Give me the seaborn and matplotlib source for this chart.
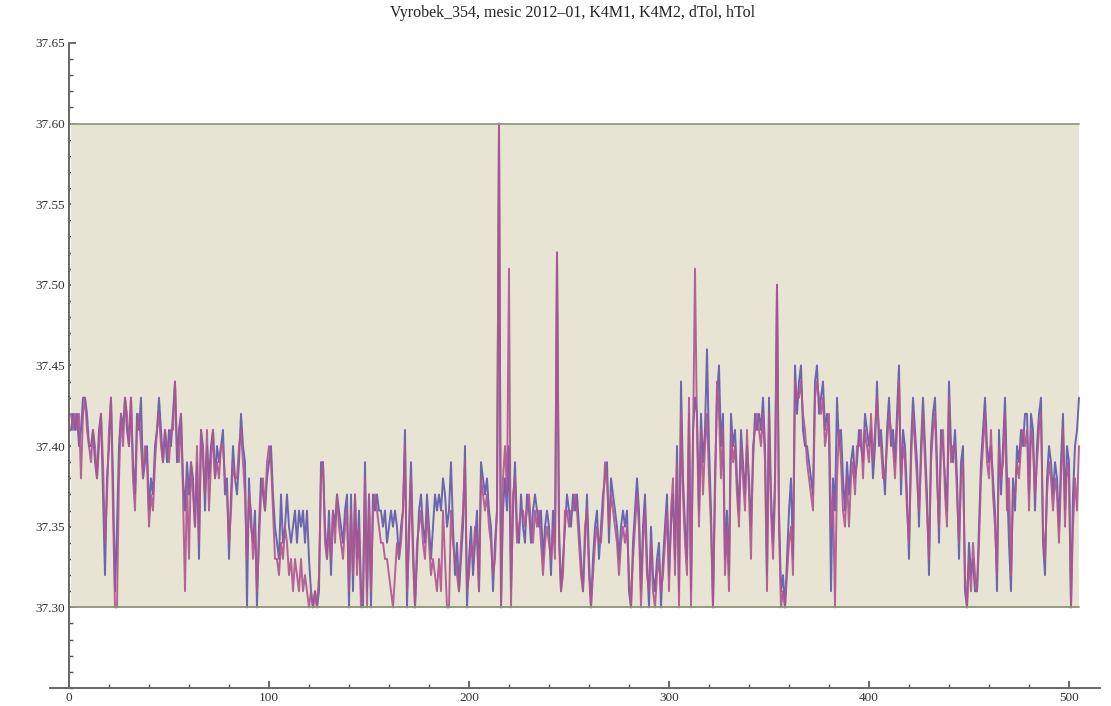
import numpy as np
import pandas as pd
import matplotlib
matplotlib.use("Agg")
import matplotlib.pyplot as plt
import seaborn as sns
from matplotlib.ticker import MultipleLocator, FormatStrFormatter

# ---------------- data ----------------
title = "Vyrobek_354, mesic 2012\u201301, K4M1, K4M2, dTol, hTol"
series_names = ["K4M1", "K4M2"]
dtol_value = 37.30
htol_value = 37.60
x_ticks = [0, 100, 200, 300, 400, 500]
y_ticks = [37.30, 37.35, 37.40, 37.45, 37.50, 37.55, 37.60, 37.65]

k4m1 = [
    37.41, 37.42, 37.41, 37.42, 37.40, 37.41, 37.43, 37.43, 37.42, 37.40,
    37.40, 37.41, 37.39, 37.38, 37.41, 37.42, 37.37, 37.32, 37.38, 37.40,
    37.43, 37.38, 37.31, 37.35, 37.40, 37.42, 37.41, 37.43, 37.41, 37.40,
    37.43, 37.39, 37.37, 37.42, 37.41, 37.43, 37.38, 37.39, 37.40, 37.36,
    37.38, 37.37, 37.40, 37.41, 37.43, 37.41, 37.39, 37.41, 37.39, 37.41,
    37.40, 37.42, 37.44, 37.39, 37.41, 37.42, 37.38, 37.36, 37.39, 37.37,
    37.39, 37.38, 37.35, 37.39, 37.33, 37.41, 37.40, 37.36, 37.40, 37.38,
    37.40, 37.41, 37.38, 37.40, 37.39, 37.40, 37.41, 37.37, 37.38, 37.33,
    37.37, 37.40, 37.38, 37.37, 37.39, 37.42, 37.40, 37.39, 37.30, 37.38,
    37.35, 37.34, 37.36, 37.30, 37.35, 37.38, 37.37, 37.36, 37.38, 37.39,
    37.40, 37.37, 37.35, 37.34, 37.33, 37.37, 37.34, 37.35, 37.37, 37.35,
    37.34, 37.35, 37.36, 37.34, 37.36, 37.35, 37.36, 37.34, 37.36, 37.33,
    37.31, 37.30, 37.31, 37.30, 37.31, 37.39, 37.39, 37.35, 37.33, 37.36,
    37.32, 37.36, 37.35, 37.37, 37.36, 37.35, 37.34, 37.36, 37.37, 37.30,
    37.37, 37.31, 37.37, 37.33, 37.36, 37.31, 37.30, 37.39, 37.31, 37.37,
    37.30, 37.37, 37.36, 37.37, 37.36, 37.36, 37.35, 37.36, 37.34, 37.35,
    37.36, 37.35, 37.36, 37.35, 37.33, 37.35, 37.36, 37.41, 37.30, 37.35,
    37.39, 37.34, 37.30, 37.33, 37.36, 37.37, 37.35, 37.34, 37.37, 37.35,
    37.33, 37.35, 37.37, 37.36, 37.37, 37.36, 37.38, 37.37, 37.35, 37.36,
    37.39, 37.35, 37.32, 37.34, 37.31, 37.33, 37.35, 37.40, 37.30, 37.33,
    37.35, 37.32, 37.34, 37.36, 37.31, 37.39, 37.38, 37.37, 37.38, 37.36,
    37.35, 37.31, 37.34, 37.36, 37.60, 37.30, 37.36, 37.38, 37.36, 37.40,
    37.31, 37.36, 37.39, 37.35, 37.34, 37.37, 37.35, 37.34, 37.37, 37.36,
    37.34, 37.36, 37.37, 37.36, 37.35, 37.36, 37.33, 37.35, 37.36, 37.35,
    37.32, 37.36, 37.34, 37.52, 37.35, 37.31, 37.33, 37.35, 37.37, 37.36,
    37.35, 37.37, 37.36, 37.37, 37.35, 37.33, 37.31, 37.34, 37.37, 37.33,
    37.30, 37.33, 37.35, 37.36, 37.33, 37.35, 37.37, 37.38, 37.39, 37.34,
    37.38, 37.37, 37.36, 37.35, 37.33, 37.35, 37.36, 37.35, 37.36, 37.31,
    37.30, 37.34, 37.36, 37.38, 37.36, 37.31, 37.35, 37.37, 37.33, 37.30,
    37.35, 37.32, 37.31, 37.33, 37.34, 37.30, 37.33, 37.35, 37.37, 37.32,
    37.35, 37.37, 37.33, 37.40, 37.31, 37.44, 37.38, 37.35, 37.33, 37.42,
    37.31, 37.41, 37.43, 37.42, 37.36, 37.42, 37.39, 37.41, 37.46, 37.40,
    37.36, 37.30, 37.38, 37.43, 37.45, 37.40, 37.42, 37.33, 37.36, 37.32,
    37.42, 37.40, 37.41, 37.38, 37.36, 37.41, 37.39, 37.37, 37.40, 37.38,
    37.35, 37.39, 37.42, 37.41, 37.42, 37.41, 37.43, 37.40, 37.32, 37.43,
    37.37, 37.34, 37.38, 37.50, 37.36, 37.31, 37.32, 37.30, 37.33, 37.36,
    37.38, 37.33, 37.45, 37.42, 37.44, 37.45, 37.41, 37.40, 37.40, 37.39,
    37.38, 37.37, 37.44, 37.45, 37.42, 37.43, 37.44, 37.41, 37.42, 37.41,
    37.31, 37.38, 37.36, 37.43, 37.40, 37.41, 37.38, 37.36, 37.39, 37.37,
    37.39, 37.40, 37.38, 37.39, 37.41, 37.40, 37.39, 37.42, 37.41, 37.40,
    37.41, 37.38, 37.40, 37.44, 37.40, 37.41, 37.39, 37.37, 37.41, 37.43,
    37.40, 37.41, 37.39, 37.42, 37.45, 37.37, 37.41, 37.40, 37.37, 37.33,
    37.40, 37.43, 37.41, 37.39, 37.35, 37.40, 37.43, 37.40, 37.37, 37.32,
    37.40, 37.42, 37.43, 37.39, 37.34, 37.41, 37.40, 37.38, 37.36, 37.44,
    37.40, 37.39, 37.41, 37.38, 37.33, 37.39, 37.40, 37.31, 37.30, 37.34,
    37.32, 37.33, 37.31, 37.31, 37.35, 37.39, 37.41, 37.43, 37.40, 37.39,
    37.40, 37.38, 37.36, 37.31, 37.41, 37.37, 37.40, 37.43, 37.38, 37.34,
    37.31, 37.38, 37.36, 37.40, 37.39, 37.41, 37.40, 37.42, 37.42, 37.37,
    37.42, 37.41, 37.36, 37.40, 37.42, 37.43, 37.34, 37.32, 37.38, 37.40,
    37.39, 37.37, 37.39, 37.38, 37.35, 37.39, 37.42, 37.36, 37.40, 37.39,
    37.30, 37.37, 37.40, 37.41, 37.43,
]

k4m2 = [
    37.42, 37.41, 37.42, 37.41, 37.42, 37.38, 37.42, 37.43, 37.41, 37.40,
    37.39, 37.41, 37.40, 37.38, 37.40, 37.42, 37.39, 37.34, 37.37, 37.41,
    37.43, 37.36, 37.30, 37.30, 37.38, 37.42, 37.40, 37.43, 37.42, 37.40,
    37.43, 37.38, 37.36, 37.41, 37.42, 37.40, 37.38, 37.40, 37.39, 37.35,
    37.37, 37.36, 37.39, 37.41, 37.42, 37.40, 37.39, 37.41, 37.40, 37.39,
    37.41, 37.41, 37.44, 37.40, 37.39, 37.42, 37.37, 37.31, 37.38, 37.33,
    37.39, 37.37, 37.35, 37.40, 37.34, 37.41, 37.39, 37.37, 37.41, 37.36,
    37.39, 37.41, 37.38, 37.39, 37.38, 37.40, 37.40, 37.38, 37.37, 37.34,
    37.36, 37.39, 37.38, 37.38, 37.40, 37.41, 37.39, 37.37, 37.33, 37.37,
    37.36, 37.33, 37.35, 37.31, 37.34, 37.37, 37.38, 37.36, 37.39, 37.40,
    37.39, 37.36, 37.33, 37.33, 37.32, 37.34, 37.33, 37.35, 37.34, 37.32,
    37.33, 37.31, 37.33, 37.32, 37.31, 37.33, 37.31, 37.32, 37.31, 37.30,
    37.31, 37.30, 37.31, 37.30, 37.32, 37.38, 37.39, 37.34, 37.33, 37.35,
    37.33, 37.36, 37.34, 37.37, 37.35, 37.34, 37.33, 37.35, 37.36, 37.31,
    37.36, 37.32, 37.37, 37.32, 37.35, 37.30, 37.31, 37.38, 37.30, 37.37,
    37.31, 37.36, 37.37, 37.36, 37.35, 37.34, 37.34, 37.33, 37.33, 37.32,
    37.31, 37.30, 37.32, 37.34, 37.33, 37.34, 37.36, 37.40, 37.31, 37.34,
    37.38, 37.33, 37.30, 37.34, 37.35, 37.36, 37.34, 37.33, 37.36, 37.34,
    37.32, 37.33, 37.32, 37.31, 37.33, 37.31, 37.36, 37.33, 37.30, 37.30,
    37.36, 37.34, 37.33, 37.32, 37.31, 37.34, 37.36, 37.39, 37.31, 37.32,
    37.34, 37.33, 37.35, 37.34, 37.31, 37.38, 37.37, 37.36, 37.37, 37.35,
    37.34, 37.32, 37.33, 37.36, 37.60, 37.30, 37.38, 37.40, 37.37, 37.51,
    37.30, 37.37, 37.38, 37.34, 37.35, 37.36, 37.36, 37.35, 37.36, 37.37,
    37.35, 37.34, 37.36, 37.35, 37.36, 37.34, 37.32, 37.34, 37.35, 37.34,
    37.33, 37.35, 37.33, 37.52, 37.34, 37.31, 37.32, 37.36, 37.36, 37.35,
    37.36, 37.36, 37.37, 37.36, 37.34, 37.32, 37.31, 37.35, 37.36, 37.32,
    37.30, 37.32, 37.34, 37.35, 37.34, 37.34, 37.36, 37.39, 37.38, 37.35,
    37.37, 37.36, 37.35, 37.34, 37.32, 37.34, 37.35, 37.34, 37.35, 37.32,
    37.30, 37.33, 37.35, 37.37, 37.35, 37.30, 37.34, 37.36, 37.32, 37.31,
    37.34, 37.31, 37.30, 37.32, 37.33, 37.31, 37.32, 37.34, 37.36, 37.31,
    37.36, 37.38, 37.32, 37.39, 37.30, 37.42, 37.37, 37.34, 37.32, 37.43,
    37.30, 37.40, 37.51, 37.41, 37.35, 37.41, 37.37, 37.40, 37.42, 37.38,
    37.35, 37.30, 37.37, 37.44, 37.42, 37.38, 37.41, 37.32, 37.35, 37.31,
    37.41, 37.39, 37.40, 37.37, 37.35, 37.40, 37.38, 37.36, 37.41, 37.37,
    37.33, 37.40, 37.41, 37.42, 37.41, 37.40, 37.42, 37.39, 37.31, 37.42,
    37.36, 37.33, 37.37, 37.50, 37.35, 37.30, 37.31, 37.30, 37.32, 37.34,
    37.35, 37.32, 37.44, 37.43, 37.43, 37.44, 37.42, 37.41, 37.39, 37.38,
    37.37, 37.36, 37.43, 37.44, 37.43, 37.42, 37.43, 37.40, 37.41, 37.42,
    37.35, 37.37, 37.30, 37.38, 37.41, 37.39, 37.36, 37.35, 37.38, 37.35,
    37.38, 37.39, 37.37, 37.40, 37.40, 37.41, 37.38, 37.41, 37.40, 37.39,
    37.42, 37.39, 37.41, 37.43, 37.41, 37.40, 37.38, 37.38, 37.40, 37.42,
    37.41, 37.40, 37.38, 37.41, 37.44, 37.38, 37.40, 37.39, 37.36, 37.34,
    37.39, 37.42, 37.40, 37.38, 37.36, 37.39, 37.42, 37.39, 37.36, 37.33,
    37.39, 37.41, 37.42, 37.38, 37.35, 37.40, 37.41, 37.37, 37.35, 37.43,
    37.39, 37.40, 37.40, 37.37, 37.34, 37.38, 37.39, 37.32, 37.30, 37.33,
    37.31, 37.34, 37.32, 37.31, 37.34, 37.38, 37.40, 37.42, 37.39, 37.38,
    37.41, 37.37, 37.35, 37.32, 37.40, 37.38, 37.39, 37.42, 37.36, 37.38,
    37.32, 37.37, 37.37, 37.39, 37.38, 37.40, 37.41, 37.40, 37.41, 37.36,
    37.41, 37.40, 37.37, 37.39, 37.41, 37.42, 37.35, 37.33, 37.37, 37.39,
    37.38, 37.36, 37.38, 37.37, 37.34, 37.38, 37.41, 37.35, 37.39, 37.38,
    37.30, 37.35, 37.38, 37.36, 37.40,
]

# ---------------- figure ----------------
sns.set_style("white")
plt.rcParams["font.family"] = ["Liberation Serif", "DejaVu Serif"]

W, H = 1111, 706
fig = plt.figure(figsize=(W / 100, H / 100), dpi=100)
ax = fig.add_axes([50 / W, 18 / H, 1050 / W, 654 / H])

n = len(k4m1)
x = np.arange(1, n + 1)
dtol = np.full(n, dtol_value)
htol = np.full(n, htol_value)

ax.fill_between(x, dtol, htol, color="#e8e4d3", lw=0, zorder=1)

df = pd.DataFrame({
    "x": np.concatenate([x, x]),
    "y": k4m1 + k4m2,
    "series": [series_names[0]] * n + [series_names[1]] * n,
})
sns.lineplot(data=df, x="x", y="y", hue="series",
             palette={"K4M1": "#5e58ab", "K4M2": "#ad5690"},
             lw=1.4, legend=False, ax=ax, zorder=3, alpha=0.9)

ax.plot(x, dtol, color="#8f9377", lw=1.3, zorder=4)
ax.plot(x, htol, color="#8f9a84", lw=1.3, zorder=4)

ax.set_xlim(-9.5, 515.5)
ax.set_ylim(37.25, 37.6555)
ax.set_xlabel("")
ax.set_ylabel("")

for s in ["top", "right"]:
    ax.spines[s].set_visible(False)
ax.spines["left"].set_position(("data", 0))
ax.spines["left"].set_bounds(37.25, 37.65)
for s in ["left", "bottom"]:
    ax.spines[s].set_color("#666666")
    ax.spines[s].set_linewidth(1.4)

ax.set_xticks(x_ticks)
ax.set_yticks(y_ticks)
ax.xaxis.set_minor_locator(MultipleLocator(20))
ax.yaxis.set_minor_locator(MultipleLocator(0.01))
ax.yaxis.set_major_formatter(FormatStrFormatter("%.2f"))
ax.tick_params(axis="both", which="both", bottom=True, left=True,
               top=False, right=False)
ax.tick_params(axis="both", which="major", direction="in", length=5,
               width=1.1, color="#444444", labelsize=9.5, labelcolor="#333333")
ax.tick_params(axis="both", which="minor", direction="in", length=3,
               width=1.0, color="#555555")
ax.tick_params(axis="y", which="both", pad=3)
ax.tick_params(axis="x", which="both", pad=3)

fig.text(573 / W, 1 - 13 / H, title, ha="center", va="center",
         fontsize=11.5, color="#222222")

fig.savefig("out.png", dpi=100, facecolor="white")
